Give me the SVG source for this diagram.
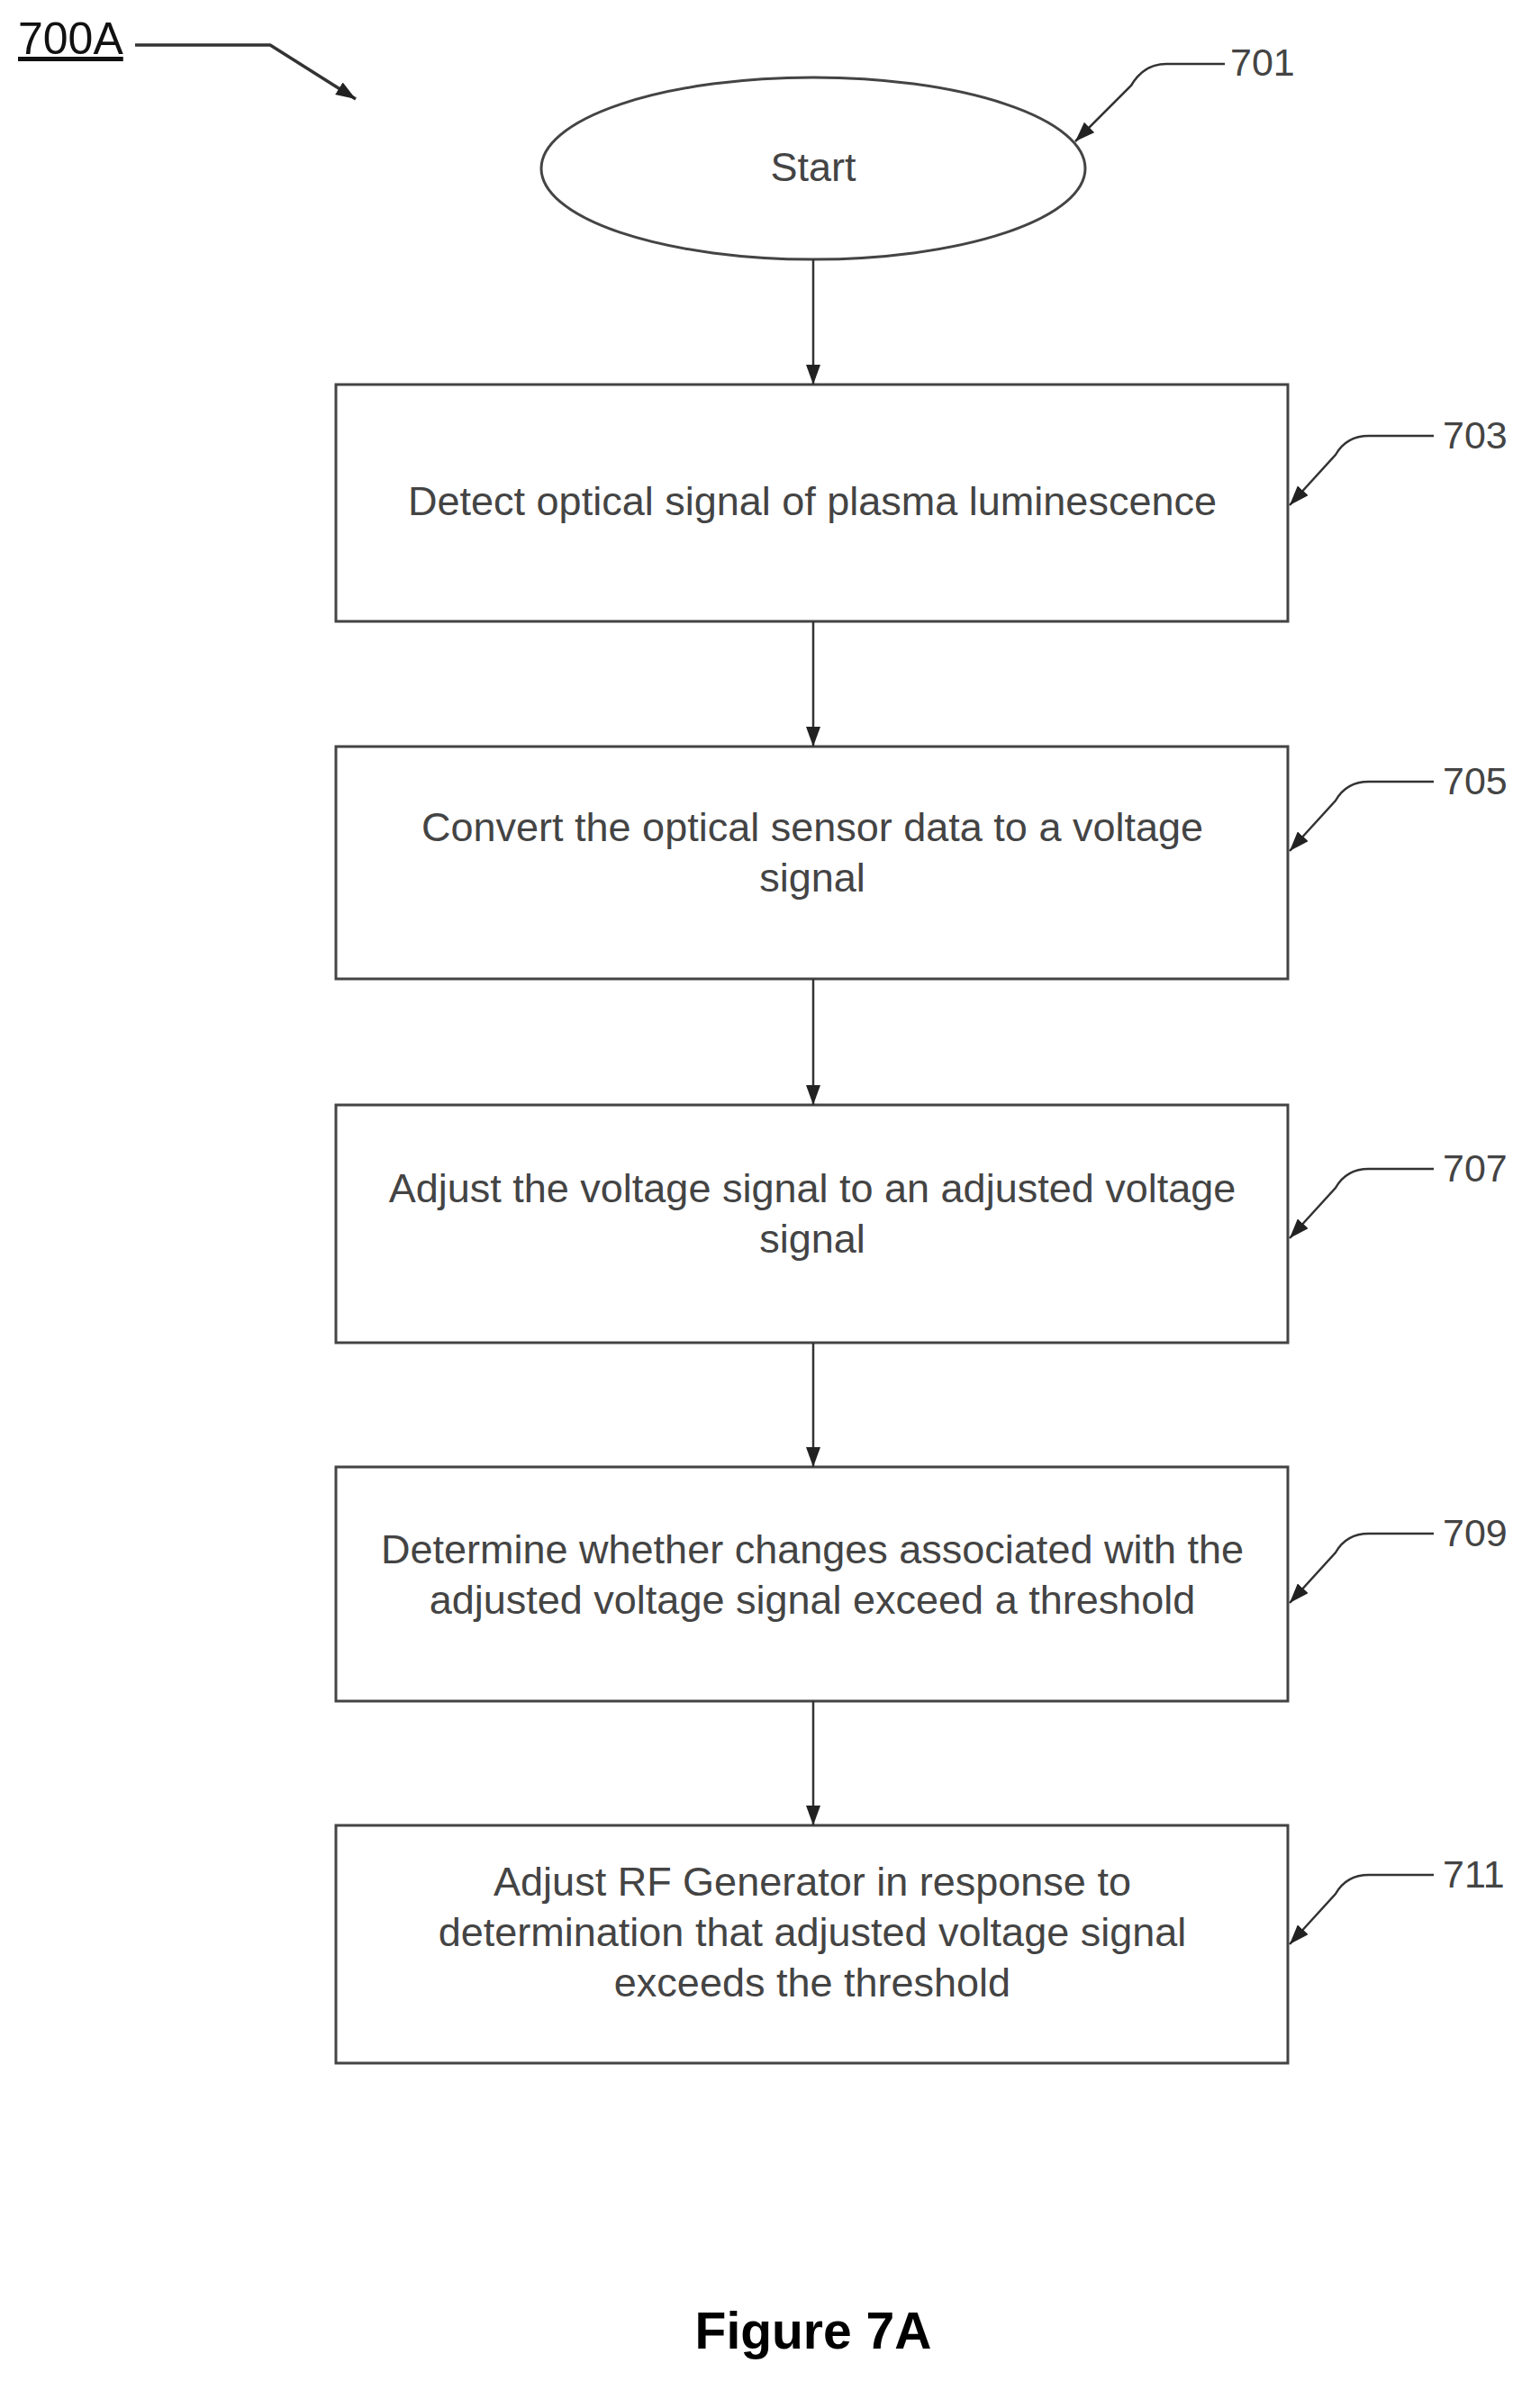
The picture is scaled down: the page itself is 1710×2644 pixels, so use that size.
<svg xmlns="http://www.w3.org/2000/svg" width="1710" height="2644" viewBox="0 0 1710 2644">
<style>
.n{fill:#fff;stroke:#444;stroke-width:3}
.t{font-family:"Liberation Sans",Arial,sans-serif;font-size:45px;fill:#444;text-anchor:middle}
.r{font-family:"Liberation Sans",Arial,sans-serif;font-size:43px;fill:#444}
.c{stroke:#333;stroke-width:2.5;fill:none}
</style>
<defs><marker id="a" viewBox="0 0 10 10" refX="10" refY="5" markerWidth="22" markerHeight="16" markerUnits="userSpaceOnUse" orient="auto" preserveAspectRatio="none"><path d="M0,0L10,5L0,10z" fill="#222"/></marker></defs>
<g id="label700A"><text x="20" y="60" style="font-family:'Liberation Sans',Arial,sans-serif;font-size:50px;fill:#111;text-decoration:underline">700A</text></g>
<g id="n701"><ellipse class="n" cx="903" cy="187" rx="302" ry="101"/><text class="t" x="903" y="201">Start</text></g>
<g id="n703"><rect class="n" x="373" y="427" width="1057" height="263"/><text class="t" x="902" y="572">Detect optical signal of plasma luminescence</text></g>
<g id="n705"><rect class="n" x="373" y="829" width="1057" height="258"/><text class="t" x="902" y="934">Convert the optical sensor data to a voltage</text><text class="t" x="902" y="990">signal</text></g>
<g id="n707"><rect class="n" x="373" y="1227" width="1057" height="264"/><text class="t" x="902" y="1335">Adjust the voltage signal to an adjusted voltage</text><text class="t" x="902" y="1391">signal</text></g>
<g id="n709"><rect class="n" x="373" y="1629" width="1057" height="260"/><text class="t" x="902" y="1736">Determine whether changes associated with the</text><text class="t" x="902" y="1792">adjusted voltage signal exceed a threshold</text></g>
<g id="n711"><rect class="n" x="373" y="2027" width="1057" height="264"/><text class="t" x="902" y="2105">Adjust RF Generator in response to</text><text class="t" x="902" y="2161">determination that adjusted voltage signal</text><text class="t" x="902" y="2217">exceeds the threshold</text></g>
<g id="refs">
<text class="r" x="1366" y="84">701</text>
<text class="r" x="1602" y="498">703</text>
<text class="r" x="1602" y="882">705</text>
<text class="r" x="1602" y="1312">707</text>
<text class="r" x="1602" y="1717">709</text>
<text class="r" x="1602" y="2096">711</text>
</g>
<g id="connectors">
<path class="c" d="M150,50H300L395,110" marker-end="url(#a)" style="stroke-width:3.5"/>
<path class="c" d="M1360,71H1295Q1270,71 1256,95L1194,157" marker-end="url(#a)"/>
<path class="c" d="M1592,484H1520Q1495,484 1483,505L1432,561" marker-end="url(#a)"/>
<path class="c" d="M1592,868H1520Q1495,868 1483,889L1432,945" marker-end="url(#a)"/>
<path class="c" d="M1592,1298H1520Q1495,1298 1483,1319L1432,1375" marker-end="url(#a)"/>
<path class="c" d="M1592,1703H1520Q1495,1703 1483,1724L1432,1780" marker-end="url(#a)"/>
<path class="c" d="M1592,2082H1520Q1495,2082 1483,2103L1432,2159" marker-end="url(#a)"/>
<line class="c" x1="903" y1="288" x2="903" y2="427" marker-end="url(#a)"/>
<line class="c" x1="903" y1="690" x2="903" y2="829" marker-end="url(#a)"/>
<line class="c" x1="903" y1="1087" x2="903" y2="1227" marker-end="url(#a)"/>
<line class="c" x1="903" y1="1491" x2="903" y2="1629" marker-end="url(#a)"/>
<line class="c" x1="903" y1="1889" x2="903" y2="2027" marker-end="url(#a)"/>
</g>
<g id="caption"><text x="903" y="2608" style="font-family:'Liberation Sans',Arial,sans-serif;font-size:57px;font-weight:bold;fill:#000;text-anchor:middle">Figure 7A</text></g>
</svg>
